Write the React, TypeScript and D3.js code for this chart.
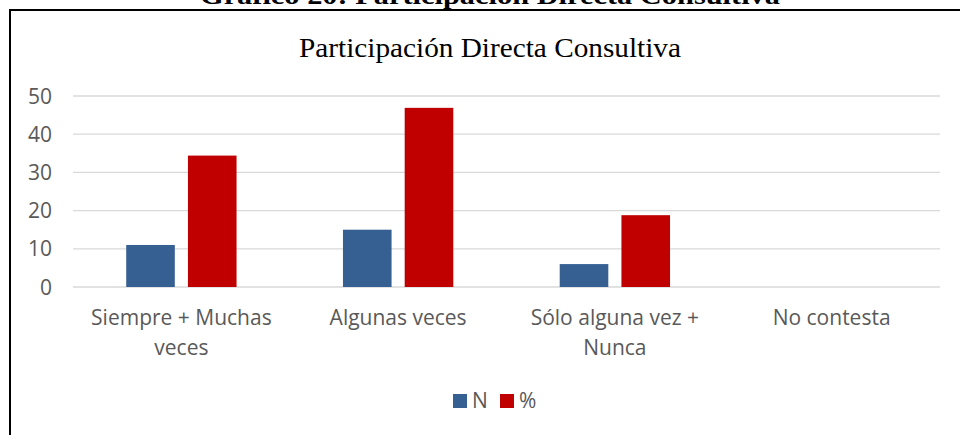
import React from 'react';
import * as d3 from 'd3';

const categories = ['Siempre + Muchas veces', 'Algunas veces', 'Sólo alguna vez + Nunca', 'No contesta'];
const categoryLines = [['Siempre + Muchas', 'veces'], ['Algunas veces'], ['Sólo alguna vez +', 'Nunca'], ['No contesta']];
const seriesNames = ['N', '%'];
const nValues = [11, 15, 6, 0];
const pctValues = [34.4, 46.9, 18.8, 0];
const yTicks = [0, 10, 20, 30, 40, 50];
const colors = ['#376092', '#C00000'];

const W = 960;
const H = 435;
const m = { l: 73, r: 20, t: 96, b: 148 };
const sans = '"Open Sans", sans-serif';
const serif = '"Liberation Serif", "Times New Roman", serif';

const App = () => {
  const x0 = d3.scaleBand<string>().domain(categories).range([m.l, W - m.r]).padding(0);
  // Excel-style: gap width ~219%, overlap -27%
  const x1 = d3.scaleBand<string>().domain(seriesNames).range([0, x0.bandwidth()]).paddingInner(0.2126).paddingOuter(0.862);
  const y = d3.scaleLinear().domain([0, 50]).range([H - m.b, m.t]);

  const series = [nValues, pctValues];

  return (
    <svg width={W} height={H} style={{ position: 'absolute', left: 0, top: 0, background: '#fff' }}>
      <rect x={0} y={0} width={W} height={H} fill="#fff" />
      {/* clipped figure caption above the frame */}
      <text x={490} y={4} textAnchor="middle" fontFamily={serif} fontWeight="bold" fontSize={26} textLength={580} lengthAdjust="spacingAndGlyphs" fill="#000">
        Gráfico 20: Participación Directa Consultiva
      </text>
      <rect x={10} y={10} width={W + 40} height={H + 40} fill="#fff" stroke="#000" strokeWidth={2} />

      <text x={490} y={57} textAnchor="middle" fontFamily={serif} fontSize={28} textLength={382} lengthAdjust="spacingAndGlyphs" fill="#000">
        Participación Directa Consultiva
      </text>

      {yTicks.map(t => (
        <g key={t}>
          <line x1={m.l} x2={W - m.r} y1={y(t)} y2={y(t)} stroke="#d9d9d9" strokeWidth={1.3} />
          <text x={52} y={y(t)} dy="0.36em" textAnchor="end" fontFamily={sans} fontSize={21} fill="#595959">{t}</text>
        </g>
      ))}

      {categories.map((c, i) => (
        <g key={c} transform={`translate(${x0(c)},0)`}>
          {seriesNames.map((s, j) => {
            const v = series[j][i];
            if (!v) return null;
            return (
              <rect key={s} x={x1(s)} y={y(v)} width={x1.bandwidth()} height={y(0) - y(v)} fill={colors[j]} />
            );
          })}
          {categoryLines[i].map((line, k) => (
            <text key={k} x={x0.bandwidth() / 2} y={325 + k * 30} textAnchor="middle" fontFamily={sans} fontSize={21} fill="#595959">{line}</text>
          ))}
        </g>
      ))}

      {/* legend */}
      <g>
        <rect x={453} y={394} width={14} height={14} fill={colors[0]} />
        <text x={472} y={408} fontFamily={sans} fontSize={21} fill="#595959">{seriesNames[0]}</text>
        <rect x={500} y={394} width={14} height={14} fill={colors[1]} />
        <text x={519} y={408} fontFamily={sans} fontSize={21} fill="#595959">{seriesNames[1]}</text>
      </g>
    </svg>
  );
};

export default App;
